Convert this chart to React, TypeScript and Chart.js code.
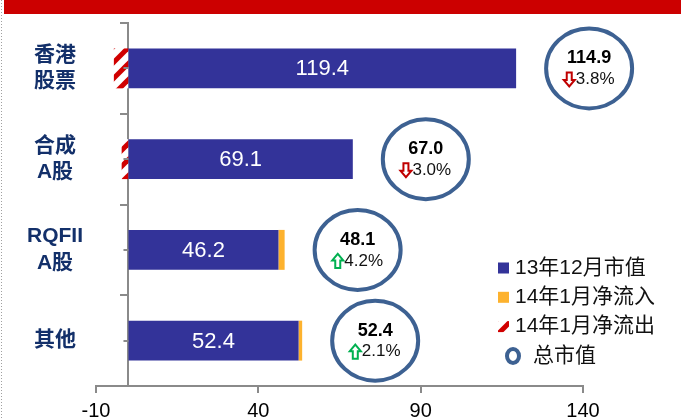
import React, { useEffect, useRef } from "react";
import { Chart, registerables } from "chart.js";

Chart.register(...registerables);

// ---- data ----
const categories: string[][] = [["香港", "股票"], ["合成", "A股"], ["RQFII", "A股"], ["其他"]];
const dec2013Value = [119.4, 69.1, 46.2, 52.4];
const janInflow = [0, 0, 1.9, 1.1];
const janOutflow = [-4.5, -2.1, 0, 0];
const totalValue = [114.9, 67.0, 48.1, 52.4];
const changePct = [-3.8, -3.0, 4.2, 2.1];
const seriesNames = ["13年12月市值", "14年1月净流入", "14年1月净流出", "总市值"];
const xMin = -10;
const xMax = 140;
const xStep = 50;

// ---- styles ----
const FONT = '"Liberation Sans", "Noto Sans CJK SC", Arial, sans-serif';
const BLUE = "#333399";
const ORANGE = "#FDB22E";
const RED = "#D00000";
const RING = "#3D6192";
const AXIS = "#8A8A8A";
const LABEL = "#13306A";

function makeHatch(ctx: CanvasRenderingContext2D): CanvasPattern | string {
  const s = 16;
  const c = document.createElement("canvas");
  c.width = s;
  c.height = s;
  const g = c.getContext("2d");
  if (!g) return RED;
  g.fillStyle = "#ffffff";
  g.fillRect(0, 0, s, s);
  g.strokeStyle = RED;
  g.lineWidth = 5;
  g.lineCap = "butt";
  for (const off of [-s, 0, s]) {
    g.beginPath();
    g.moveTo(off - 2, s + 2);
    g.lineTo(off + s + 2, -2);
    g.stroke();
  }
  return ctx.createPattern(c, "repeat") || RED;
}

function drawArrow(ctx: CanvasRenderingContext2D, cx: number, cy: number, up: boolean, color: string) {
  const h = 14, hw = 5.5, sw = 2.5;
  const dir = up ? -1 : 1;
  const tip = cy + dir * h / 2;
  const tail = cy - dir * h / 2;
  const neck = cy + dir * 0.5;
  ctx.save();
  ctx.beginPath();
  ctx.moveTo(cx - sw, tail);
  ctx.lineTo(cx + sw, tail);
  ctx.lineTo(cx + sw, neck);
  ctx.lineTo(cx + hw, neck);
  ctx.lineTo(cx, tip);
  ctx.lineTo(cx - hw, neck);
  ctx.lineTo(cx - sw, neck);
  ctx.closePath();
  ctx.fillStyle = "#ffffff";
  ctx.fill();
  ctx.lineWidth = 2;
  ctx.lineJoin = "miter";
  ctx.strokeStyle = color;
  ctx.stroke();
  ctx.restore();
}

const decor = {
  id: "decor",
  beforeDraw(chart: any) {
    const ctx: CanvasRenderingContext2D = chart.ctx;
    ctx.save();
    ctx.strokeStyle = "#A0A0A0";
    ctx.lineWidth = 1;
    ctx.setLineDash([1, 2]);
    ctx.beginPath();
    ctx.moveTo(1.5, 0);
    ctx.lineTo(1.5, chart.height);
    ctx.stroke();
    ctx.setLineDash([]);
    ctx.fillStyle = "#CC0000";
    ctx.fillRect(4, 0, chart.width - 4, 14);
    ctx.restore();
  },
  afterDatasetsDraw(chart: any) {
    const ctx: CanvasRenderingContext2D = chart.ctx;
    const xs = chart.scales.x;
    const ys = chart.scales.y;
    const area = chart.chartArea;
    const x0 = xs.getPixelForValue(0);
    ctx.save();

    // center tick marks on category axis
    ctx.strokeStyle = AXIS;
    ctx.lineWidth = 2;
    categories.forEach((_, i) => {
      const y = Math.round(ys.getPixelForValue(i));
      ctx.beginPath();
      ctx.moveTo(x0 - 5, y);
      ctx.lineTo(x0, y);
      ctx.stroke();
    });

    // category labels
    ctx.fillStyle = LABEL;
    ctx.textAlign = "center";
    ctx.textBaseline = "middle";
    ctx.font = `bold 21px ${FONT}`;
    categories.forEach((lines, i) => {
      const y = ys.getPixelForValue(i);
      const lh = 26.5;
      const startY = y - ((lines.length - 1) * lh) / 2;
      lines.forEach((t, k) => ctx.fillText(t, area.left - 41, startY + k * lh));
    });

    // value labels inside blue bars
    const meta = chart.getDatasetMeta(0);
    ctx.fillStyle = "#ffffff";
    ctx.font = `22px ${FONT}`;
    meta.data.forEach((el: any, i: number) => {
      const { x, base, y } = el.getProps(["x", "base", "y"], true);
      ctx.fillText(dec2013Value[i].toFixed(1), (x + base) / 2, y + 1);
    });

    // callout rings
    categories.forEach((_, i) => {
      const end = dec2013Value[i] + janInflow[i];
      const cx = xs.getPixelForValue(end) + 73;
      const cy = ys.getPixelForValue(i);
      ctx.beginPath();
      ctx.ellipse(cx, cy, 43, 40, 0, 0, Math.PI * 2);
      ctx.fillStyle = "#ffffff";
      ctx.fill();
      ctx.lineWidth = 4;
      ctx.strokeStyle = RING;
      ctx.stroke();

      ctx.fillStyle = "#000000";
      ctx.textAlign = "center";
      ctx.font = `bold 18px ${FONT}`;
      ctx.fillText(totalValue[i].toFixed(1), cx, cy - 10);

      const up = changePct[i] >= 0;
      const txt = Math.abs(changePct[i]).toFixed(1) + "%";
      ctx.font = `17px ${FONT}`;
      const w = ctx.measureText(txt).width;
      const total = 12 + w;
      const start = cx - total / 2;
      drawArrow(ctx, start + 5.5, cy + 11, up, up ? "#00B050" : "#C00000");
      ctx.fillStyle = "#111111";
      ctx.textAlign = "left";
      ctx.fillText(txt, start + 12, cy + 11);
    });

    // legend
    const lx = area.right - 86;
    const ly = area.bottom - 118;
    const gap = 29.3;
    const markers: (string | CanvasPattern)[] = [BLUE, ORANGE, chart.data.datasets[2].backgroundColor];
    ctx.font = `21px ${FONT}`;
    ctx.textBaseline = "middle";
    seriesNames.forEach((name, k) => {
      const y = ly + k * gap;
      if (k < 3) {
        ctx.fillStyle = markers[k] as any;
        ctx.fillRect(lx + 1, y - 5.5, 11, 11);
        ctx.fillStyle = "#111111";
        ctx.textAlign = "left";
        ctx.fillText(name, lx + 18, y);
      } else {
        ctx.beginPath();
        ctx.ellipse(lx + 16, y, 6, 7, 0, 0, Math.PI * 2);
        ctx.lineWidth = 4;
        ctx.strokeStyle = RING;
        ctx.stroke();
        ctx.fillStyle = "#111111";
        ctx.textAlign = "left";
        ctx.fillText(name, lx + 36, y);
      }
    });
    ctx.restore();
  },
};

export default function App() {
  const ref = useRef<HTMLCanvasElement | null>(null);
  useEffect(() => {
    const canvas = ref.current;
    if (!canvas) return;
    const ctx = canvas.getContext("2d") as CanvasRenderingContext2D;
    const hatch = makeHatch(ctx);
    const chart = new Chart(canvas, {
      type: "bar",
      data: {
        labels: categories.map((c) => c.join("")),
        datasets: [
          { label: seriesNames[0], data: dec2013Value, backgroundColor: BLUE, stack: "s" },
          { label: seriesNames[1], data: janInflow, backgroundColor: ORANGE, stack: "s" },
          { label: seriesNames[2], data: janOutflow, backgroundColor: hatch as any, stack: "s" },
        ],
      },
      options: {
        indexAxis: "y",
        responsive: false,
        animation: false,
        layout: { padding: { left: 96, right: 98, top: 23, bottom: -9 } },
        datasets: { bar: { barPercentage: 0.44, categoryPercentage: 1 } },
        scales: {
          x: {
            type: "linear",
            stacked: true,
            min: xMin,
            max: xMax,
            ticks: { stepSize: xStep, color: "#000000", padding: 6, font: { family: FONT, size: 20 } },
            grid: { drawOnChartArea: false, tickLength: 7, color: AXIS, lineWidth: 2 },
            border: { color: AXIS, width: 2 },
          },
          y: {
            type: "category",
            stacked: true,
            position: { x: 0 } as any,
            ticks: { display: false },
            grid: { drawOnChartArea: false, tickLength: 7, color: AXIS, lineWidth: 2, offset: true },
            border: { color: AXIS, width: 2 },
          },
        },
        plugins: { legend: { display: false }, tooltip: { enabled: false } },
      },
      plugins: [decor],
    });
    return () => chart.destroy();
  }, []);
  return (
    <div style={{ position: "absolute", left: 0, top: 0, width: 681, height: 420, background: "#fff" }}>
      <canvas ref={ref} width={681} height={420} style={{ display: "block", width: 681, height: 420 }} />
    </div>
  );
}
